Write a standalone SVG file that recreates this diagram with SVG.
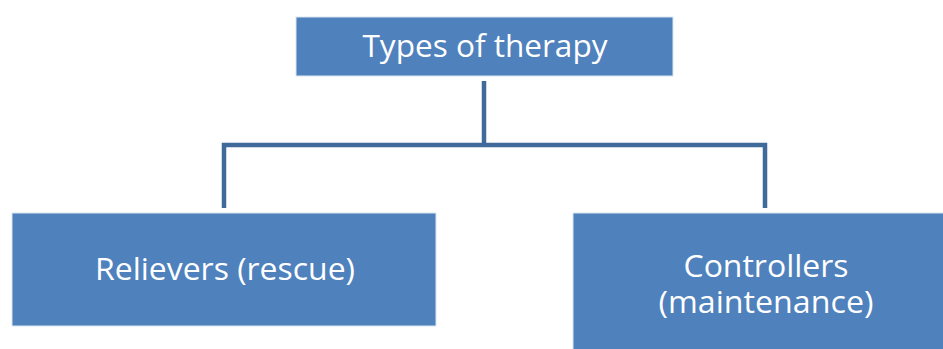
<svg xmlns="http://www.w3.org/2000/svg" width="943" height="349" viewBox="0 0 943 349">
<style>
.box{fill:#4F81BD;stroke:#DCE6F2;stroke-width:1}
.lbl{font-family:"Open Sans","Liberation Sans",Arial,sans-serif;font-size:31px;fill:#FFFFFF;text-anchor:middle}
.conn{fill:none;stroke:#3F6A9A;stroke-width:4.5;stroke-linejoin:miter}
</style>
<rect width="943" height="349" fill="#FFFFFF"/>
<g id="connectors">
<path class="conn" d="M484,81 V145"/>
<path class="conn" d="M224,208 V145 H765 V208"/>
</g>
<g id="node-types">
<rect class="box" x="296" y="17" width="377" height="59"/>
<text class="lbl" x="485" y="57" textLength="245" lengthAdjust="spacingAndGlyphs">Types of therapy</text>
</g>
<g id="node-relievers">
<rect class="box" x="12" y="213" width="424" height="113"/>
<text class="lbl" x="225" y="280" textLength="260" lengthAdjust="spacingAndGlyphs">Relievers (rescue)</text>
</g>
<g id="node-controllers">
<rect class="box" x="573" y="213" width="375" height="140"/>
<text class="lbl" x="766" y="277" textLength="165" lengthAdjust="spacingAndGlyphs">Controllers</text>
<text class="lbl" x="766" y="313" textLength="215" lengthAdjust="spacingAndGlyphs">(maintenance)</text>
</g>
</svg>
